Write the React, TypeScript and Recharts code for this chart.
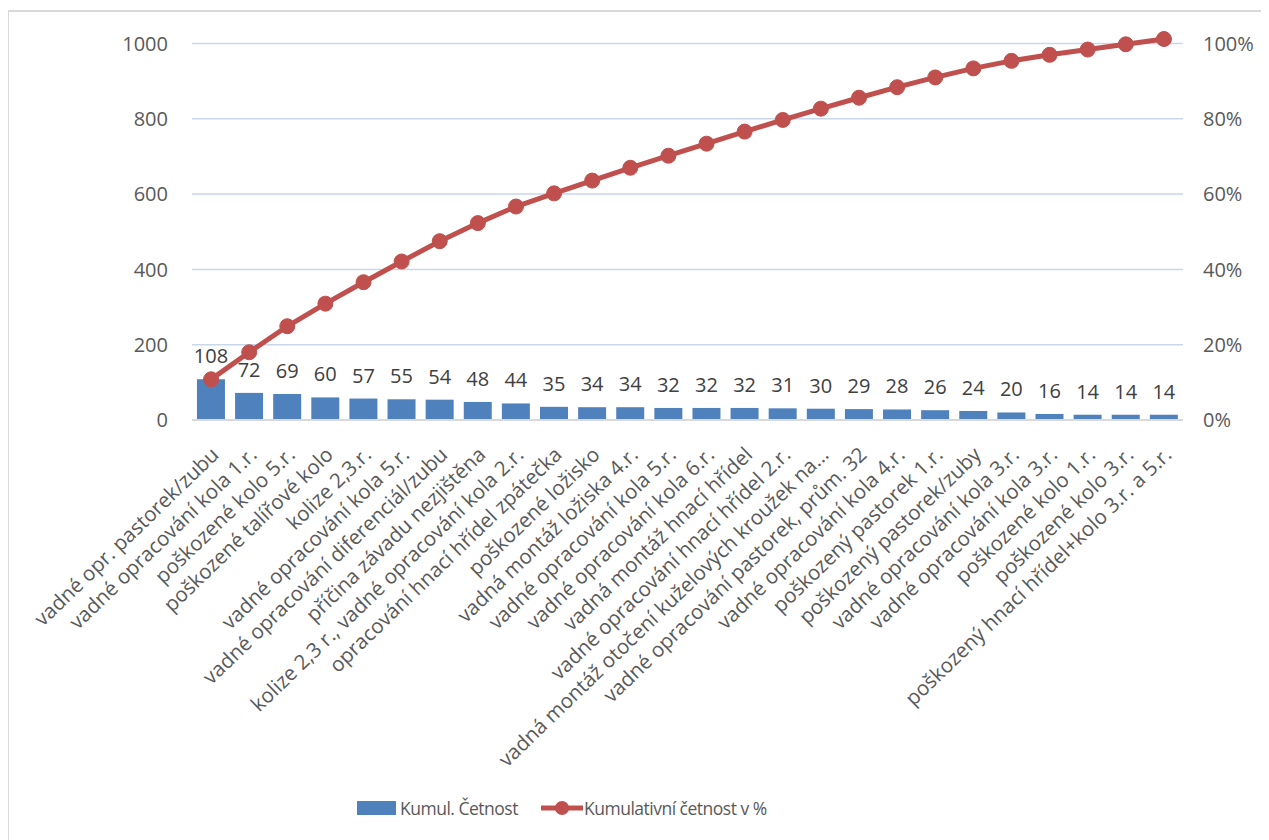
import React from "react";
import { ComposedChart, Bar, Line, XAxis, YAxis, CartesianGrid, LabelList, Legend } from "recharts";

const categories = [
  "vadné opr. pastorek/zubu",
  "vadné opracování kola 1.r.",
  "poškozené kolo 5.r.",
  "poškozené talířové kolo",
  "kolize 2,3.r.",
  "vadné opracování kola 5.r.",
  "vadné opracování diferenciál/zubu",
  "příčina závadu nezjištěna",
  "kolize 2,3 r., vadné opracování kola 2.r.",
  "opracování hnací hřídel zpátečka",
  "poškozené ložisko",
  "vadná montáž ložiska 4.r.",
  "vadné opracování kola 5.r.",
  "vadné opracování kola 6.r.",
  "vadná montáž hnací hřídel",
  "vadné opracování hnací hřídel 2.r.",
  "vadná montáž otočení kuželových kroužek na...",
  "vadné opracování pastorek, prům. 32",
  "vadné opracování kola 4.r.",
  "poškozený pastorek 1.r.",
  "poškozený pastorek/zuby",
  "vadné opracování kola 3.r.",
  "vadné opracování kola 3.r.",
  "poškozené kolo 1.r.",
  "poškozené kolo 3.r.",
  "poškozený hnací hřídel+kolo 3.r. a 5.r.",
];

const counts = [108, 72, 69, 60, 57, 55, 54, 48, 44, 35, 34, 34, 32, 32, 32, 31, 30, 29, 28, 26, 24, 20, 16, 14, 14, 14];

const cumulativePct = [
  10.8, 18.0, 24.9, 30.9, 36.6, 42.1, 47.5, 52.3, 56.7, 60.2, 63.6, 67.0, 70.2,
  73.4, 76.6, 79.7, 82.7, 85.6, 88.4, 91.0, 93.4, 95.4, 97.0, 98.4, 99.8, 101.2,
];

const leftTicks = [0, 200, 400, 600, 800, 1000];
const rightTicks = [0, 20, 40, 60, 80, 100];

const data = categories.map((c, i) => ({
  key: i,
  name: c,
  count: counts[i],
  pct: cumulativePct[i],
}));

const FONT = "'Open Sans', 'Noto Sans', sans-serif";
const TEXT = "#595959";
const BLUE = "#4F81BD";
const RED = "#C0504D";

const CategoryTick = (props: any) => {
  const { x, y, payload } = props;
  const label = categories[payload.value] ?? "";
  return (
    <g transform={`translate(${x + 4},${y + 31}) rotate(-44)`}>
      <text x={0} y={0} dy="0.35em" textAnchor="end" fill={TEXT} fontSize={20.5} fontFamily={FONT}>
        {label}
      </text>
    </g>
  );
};

const LegendContent = () => (
  <div style={{ position: "relative", height: 40, fontFamily: FONT, fontSize: 17.5, color: TEXT, letterSpacing: "-0.5px" }}>
    <div style={{ position: "absolute", left: 349, top: 1, width: 39, height: 14, background: BLUE }} />
    <div style={{ position: "absolute", left: 392, top: -4, lineHeight: "24px", whiteSpace: "nowrap" }}>Kumul. Četnost</div>
    <svg style={{ position: "absolute", left: 532, top: 0 }} width={44} height={16}>
      <line x1={1} y1={8} x2={43} y2={8} stroke={RED} strokeWidth={5} />
      <circle cx={22} cy={8} r={7} fill={RED} />
    </svg>
    <div style={{ position: "absolute", left: 576, top: -4, lineHeight: "24px", whiteSpace: "nowrap" }}>Kumulativní četnost v %</div>
  </div>
);

export default function App() {
  return (
    <div style={{ position: "relative", width: 1261, height: 832, overflow: "hidden", background: "#fff" }}>
      <div
        style={{
          position: "absolute",
          left: -1,
          top: 2,
          width: 1400,
          height: 1000,
          border: "2px solid #d9d9d9",
          boxSizing: "border-box",
        }}
      />
      <div style={{ position: "absolute", left: 0, top: 0 }}>
        <ComposedChart
          width={1261}
          height={832}
          data={data}
          margin={{ top: 28, right: 16, bottom: 0, left: 124 }}
          barCategoryGap="13%"
        >
          <CartesianGrid yAxisId="left" vertical={false} horizontalValues={leftTicks} stroke="#c9d7ea" strokeWidth={1.5} />
          <XAxis
            dataKey="key"
            type="category"
            interval={0}
            height={380}
            tick={<CategoryTick />}
            tickLine={false}
            tickSize={0}
            tickMargin={0}
            axisLine={{ stroke: "#d9d9d9", strokeWidth: 2 }}
          />
          <YAxis
            yAxisId="left"
            orientation="left"
            width={60}
            domain={[0, 1020]}
            ticks={leftTicks}
            interval={0}
            axisLine={false}
            tickLine={false}
            tickSize={0}
            tickMargin={24}
            tick={{ fill: TEXT, fontSize: 20, fontFamily: FONT }}
          />
          <YAxis
            yAxisId="right"
            orientation="right"
            width={70}
            domain={[0, 102]}
            ticks={rightTicks}
            interval={0}
            axisLine={false}
            tickLine={false}
            tickSize={0}
            tickMargin={20}
            tickFormatter={(v: number) => `${v}%`}
            tick={{ fill: TEXT, fontSize: 20, fontFamily: FONT }}
          />
          <Bar yAxisId="left" dataKey="count" fill={BLUE} isAnimationActive={false} name="Kumul. Četnost">
            <LabelList dataKey="count" position="top" offset={16} fill="#404040" fontSize={20} fontFamily={FONT} />
          </Bar>
          <Line
            yAxisId="right"
            type="linear"
            dataKey="pct"
            stroke={RED}
            strokeWidth={5}
            dot={{ r: 7.5, fill: RED, stroke: RED, strokeWidth: 1 }}
            activeDot={false}
            isAnimationActive={false}
            name="Kumulativní četnost v %"
          />
          <Legend verticalAlign="bottom" height={40} wrapperStyle={{ left: 0, width: 1261 }} content={<LegendContent />} />
        </ComposedChart>
      </div>
    </div>
  );
}
